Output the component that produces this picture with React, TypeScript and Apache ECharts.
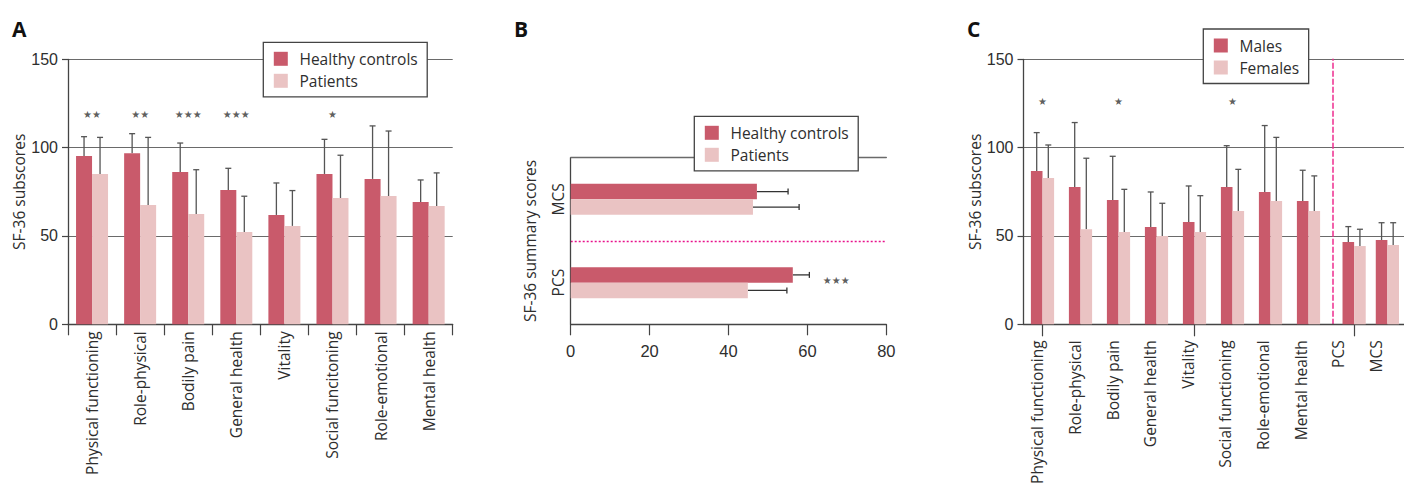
import React, { useEffect, useRef } from 'react';
import * as echarts from 'echarts';

// ---------- Panel A data ----------
const subscalesA = ['Physical functioning', 'Role-physical', 'Bodily pain', 'General health', 'Vitality', 'Social funcitoning', 'Role-emotional', 'Mental health'];
const healthyA = [95.3, 96.8, 86.2, 76.0, 61.9, 85.1, 82.3, 69.2];
const healthyASD = [10.9, 11.1, 16.4, 12.3, 18.1, 19.6, 30.0, 12.5];
const patientsA = [85.1, 67.5, 62.5, 52.3, 55.7, 71.5, 72.6, 67.0];
const patientsASD = [20.7, 38.3, 25.0, 20.2, 20.0, 24.2, 36.8, 18.7];
const starsA = ['**', '**', '***', '***', '', '*', '', ''];

// ---------- Panel B data ----------
const summaryB = ['PCS', 'MCS'];
const healthyB = [56.3, 47.2];
const healthyBSD = [4.2, 7.9];
const patientsB = [44.9, 46.2];
const patientsBSD = [9.9, 11.7];
const starsB = ['***', ''];

// ---------- Panel C data ----------
const subscalesC = ['Physical functioning', 'Role-physical', 'Bodily pain', 'General health', 'Vitality', 'Social functioning', 'Role-emotional', 'Mental health'];
const summaryC = ['PCS', 'MCS'];
const malesC = [86.8, 77.7, 70.4, 55.1, 57.9, 77.7, 74.9, 69.8];
const malesCSD = [21.7, 36.5, 24.7, 19.8, 20.4, 23.4, 37.6, 17.4];
const femalesC = [82.8, 53.8, 52.3, 50.0, 52.3, 64.2, 69.8, 64.2];
const femalesCSD = [18.7, 40.2, 24.1, 18.5, 20.5, 23.5, 36.0, 19.8];
const malesSum = [46.6, 47.7];
const malesSumSD = [8.7, 9.8];
const femalesSum = [44.3, 44.9];
const femalesSumSD = [9.5, 12.6];
const starsC = ['*', '', '*', '', '', '*', '', ''];

const yTicks = [0, 50, 100, 150];
const xTicksB = [0, 20, 40, 60, 80];

// ---------- styles ----------
const DARK = '#c95a6b';
const LIGHT = '#eac3c3';
const ERR = '#555';
const TXT = '#2e2e2e';
const GRIDC = '#6a6a6a';
const AXISC = '#444';
const PINK = '#ee2c8e';
const LABEL_FONT = "'Open Sans', 'Noto Sans', sans-serif";
const NUM_FONT = "'Liberation Sans', Arial, sans-serif";
const STAR_FONT = "'DejaVu Sans', sans-serif";

const vErr = (offset: number) => (_p: any, api: any) => {
  const c = api.value(0);
  const m = api.value(1);
  const h = api.value(2);
  const p0 = api.coord([c, m]);
  const p1 = api.coord([c, h]);
  const x = p0[0] + offset;
  const st = { stroke: ERR, lineWidth: 1.3 };
  return {
    type: 'group',
    children: [
      { type: 'line', shape: { x1: x, y1: p0[1], x2: x, y2: p1[1] }, style: st },
      { type: 'line', shape: { x1: x - 3, y1: p1[1], x2: x + 3, y2: p1[1] }, style: st },
    ],
  };
};

const hErr = (offset: number) => (_p: any, api: any) => {
  const m = api.value(0);
  const c = api.value(1);
  const h = api.value(2);
  const p0 = api.coord([m, c]);
  const p1 = api.coord([h, c]);
  const y = p0[1] + offset;
  const st = { stroke: '#333', lineWidth: 1.3 };
  return {
    type: 'group',
    children: [
      { type: 'line', shape: { x1: p0[0], y1: y, x2: p1[0], y2: y }, style: st },
      { type: 'line', shape: { x1: p1[0], y1: y - 3, x2: p1[0], y2: y + 3 }, style: st },
    ],
  };
};

const starText = (s: string) => s.replace(/\*/g, '\u2605');

const valueY = (grid: number, name?: string, nameGap?: number) => ({
  type: 'value',
  gridIndex: grid,
  min: 0,
  max: 150,
  interval: 50,
  name,
  nameLocation: 'middle',
  nameGap,
  nameTextStyle: { fontFamily: LABEL_FONT, fontSize: 15.5, color: TXT },
  axisLine: { show: true, lineStyle: { color: AXISC, width: 1.3 } },
  axisTick: { show: true, length: 6, lineStyle: { color: AXISC, width: 1.2 } },
  axisLabel: {
    margin: 10,
    fontFamily: NUM_FONT,
    fontSize: 16,
    color: TXT,
    customValues: yTicks,
  },
  splitLine: { show: true, lineStyle: { color: GRIDC, width: 1.2 } },
});

const hiddenY = (grid: number) => ({ type: 'value', gridIndex: grid, min: 0, max: 150, show: false });

export default function App() {
  const ref = useRef<HTMLDivElement>(null);

  useEffect(() => {
    if (!ref.current) return;
    const chart = echarts.init(ref.current, undefined, { renderer: 'svg' });

    const legendCommon = {
      orient: 'vertical',
      icon: 'rect',
      itemWidth: 14,
      itemHeight: 14,
      itemGap: 4,
      selectedMode: false,
      z: 10,
      backgroundColor: '#fff',
      borderColor: '#444',
      borderWidth: 1.3,
      borderRadius: 0,
      padding: [7.5, 9.5, 7, 10.5],
      textStyle: { fontFamily: LABEL_FONT, fontSize: 15.5, color: TXT, lineHeight: 18, padding: [0, 0, 0, 6.7] },
    };

    const titleStyle = { fontFamily: LABEL_FONT, fontSize: 21, fontWeight: 'bold', color: '#111' };

    const starLabel = { show: true, formatter: (p: any) => starText(p.value[2]), fontFamily: STAR_FONT, fontSize: 10, color: '#333' };

    const option: any = {
      animation: false,
      title: [
        { text: 'A', left: 12, top: 18, padding: 0, textStyle: titleStyle },
        { text: 'B', left: 514, top: 18, padding: 0, textStyle: titleStyle },
        { text: 'C', left: 967, top: 18, padding: 0, textStyle: titleStyle },
      ],
      legend: [
        { ...legendCommon, data: ['Healthy controls', 'Patients'], left: 263.3, top: 42.3 },
        { ...legendCommon, data: ['Healthy controls', 'Patients'], left: 694.3, top: 116.3 },
        { ...legendCommon, data: ['Males', 'Females'], left: 1203.3, top: 29 },
      ],
      grid: [
        { left: 68, top: 59.3, width: 384.7, height: 265 },
        { left: 570.7, top: 157.7, width: 315.6, height: 166.6 },
        { left: 1023.5, top: 59.3, width: 400, height: 265 },
        { left: 1023.5, top: 59.3, width: 304, height: 265 },
        { left: 1337.5, top: 59.3, width: 76, height: 265 },
        { left: 1018.5, top: 59.3, width: 376, height: 265 },
      ],
      xAxis: [
        {
          type: 'category',
          gridIndex: 0,
          data: subscalesA,
          axisLine: { show: true, lineStyle: { color: AXISC, width: 1.3 } },
          axisTick: { show: true, length: 11, lineStyle: { color: AXISC, width: 1.2 } },
          axisLabel: { rotate: 90, interval: 0, margin: 7, fontFamily: LABEL_FONT, fontSize: 15.5, color: TXT },
        },
        {
          type: 'value',
          gridIndex: 1,
          z: 3,
          min: 0,
          max: 80,
          interval: 20,
          axisLine: { show: true, lineStyle: { color: AXISC, width: 1.4 } },
          axisTick: { show: true, length: 11, lineStyle: { color: AXISC, width: 1.2 } },
          axisLabel: { margin: 18, fontFamily: NUM_FONT, fontSize: 16.5, color: TXT, customValues: xTicksB },
          splitLine: { show: false },
        },
        {
          type: 'value',
          gridIndex: 1,
          z: 3,
          position: 'top',
          min: 0,
          max: 80,
          axisLine: { show: true, lineStyle: { color: GRIDC, width: 1.4 } },
          axisTick: { show: false },
          axisLabel: { show: false },
          splitLine: { show: false },
        },
        {
          type: 'value',
          gridIndex: 2,
          min: 0,
          max: 1,
          axisLine: { show: true, lineStyle: { color: AXISC, width: 1.3 } },
          axisTick: { show: false },
          axisLabel: { show: false },
          splitLine: { show: false },
        },
        {
          type: 'category',
          gridIndex: 3,
          data: subscalesC,
          axisLine: { show: false },
          axisTick: { show: true, alignWithLabel: true, length: 12, lineStyle: { color: AXISC, width: 1.2 } },
          axisLabel: { show: false },
        },
        {
          type: 'category',
          gridIndex: 4,
          data: summaryC,
          axisLine: { show: false },
          axisTick: { show: true, alignWithLabel: true, length: 12, lineStyle: { color: AXISC, width: 1.2 } },
          axisLabel: { show: false },
        },
        {
          type: 'category',
          gridIndex: 5,
          data: [...subscalesC, ...summaryC],
          axisLine: { show: false },
          axisTick: { show: false },
          axisLabel: { rotate: 90, interval: 0, margin: 16, fontFamily: LABEL_FONT, fontSize: 15.5, color: TXT },
        },
      ],
      yAxis: [
        valueY(0, 'SF-36 subscores', 39),
        {
          type: 'category',
          gridIndex: 1,
          z: 0,
          data: summaryB,
          name: 'SF-36 summary scores',
          nameLocation: 'middle',
          nameGap: 33,
          nameTextStyle: { fontFamily: LABEL_FONT, fontSize: 15.5, color: TXT },
          axisLine: { show: true, lineStyle: { color: AXISC, width: 1.3 } },
          axisTick: { show: false },
          axisLabel: { rotate: 90, margin: 5, fontFamily: LABEL_FONT, fontSize: 15.5, color: TXT },
          splitLine: { show: true, showMinLine: false, showMaxLine: false, lineStyle: { color: '#e8128c', width: 1.3, type: [2, 2] } },
        },
        valueY(2, 'SF-36 subscores', 41),
        hiddenY(3),
        {
          type: 'value',
          gridIndex: 3,
          position: 'right',
          offset: 4.8,
          min: 0,
          max: 150,
          axisLine: { show: true, lineStyle: { color: PINK, width: 1.5, type: [5, 3] } },
          axisTick: { show: false },
          axisLabel: { show: false },
          splitLine: { show: false },
        },
        hiddenY(4),
        hiddenY(5),
      ],
      series: [
        // Panel A
        { type: 'bar', name: 'Healthy controls', xAxisIndex: 0, yAxisIndex: 0, data: healthyA, barWidth: 16, barGap: '0%', itemStyle: { color: DARK }, silent: true },
        { type: 'bar', name: 'Patients', xAxisIndex: 0, yAxisIndex: 0, data: patientsA, barWidth: 16, barGap: '0%', itemStyle: { color: LIGHT }, silent: true },
        {
          type: 'custom', xAxisIndex: 0, yAxisIndex: 0, silent: true, encode: { x: 0, y: [1, 2] },
          renderItem: vErr(-8), data: healthyA.map((v, i) => [subscalesA[i], v, v + healthyASD[i]]),
        },
        {
          type: 'custom', xAxisIndex: 0, yAxisIndex: 0, silent: true, encode: { x: 0, y: [1, 2] },
          renderItem: vErr(8), data: patientsA.map((v, i) => [subscalesA[i], v, v + patientsASD[i]]),
        },
        {
          type: 'scatter', xAxisIndex: 0, yAxisIndex: 0, silent: true, symbolSize: 1,
          itemStyle: { color: 'rgba(0,0,0,0)' },
          encode: { x: 0, y: 1 },
          data: starsA.map((s, i) => [subscalesA[i], 118.5, s]).filter((d) => d[2] !== ''),
          label: { ...starLabel, position: 'inside' },
        },
        // Panel B
        { type: 'bar', name: 'Healthy controls', xAxisIndex: 1, yAxisIndex: 1, data: healthyB, barWidth: 15.5, barGap: '0%', itemStyle: { color: DARK }, silent: true },
        { type: 'bar', name: 'Patients', xAxisIndex: 1, yAxisIndex: 1, data: patientsB, barWidth: 15.5, barGap: '0%', itemStyle: { color: LIGHT }, silent: true },
        {
          type: 'custom', xAxisIndex: 1, yAxisIndex: 1, silent: true, encode: { x: [0, 2], y: 1 },
          renderItem: hErr(-7.75), data: healthyB.map((v, i) => [v, summaryB[i], v + healthyBSD[i]]),
        },
        {
          type: 'custom', xAxisIndex: 1, yAxisIndex: 1, silent: true, encode: { x: [0, 2], y: 1 },
          renderItem: hErr(7.75), data: patientsB.map((v, i) => [v, summaryB[i], v + patientsBSD[i]]),
        },
        {
          type: 'scatter', xAxisIndex: 1, yAxisIndex: 1, silent: true, symbolSize: 1,
          itemStyle: { color: 'rgba(0,0,0,0)' },
          encode: { x: 0, y: 1 },
          data: starsB.map((s, i) => [healthyB[i] + healthyBSD[i], summaryB[i], s]).filter((d) => d[2] !== ''),
          label: { ...starLabel, position: 'right', distance: 13, offset: [0, -2] },
        },
        // Panel C
        { type: 'bar', name: 'Males', xAxisIndex: 4, yAxisIndex: 3, data: malesC, barWidth: 11.6, barGap: '0%', itemStyle: { color: DARK }, silent: true },
        { type: 'bar', name: 'Females', xAxisIndex: 4, yAxisIndex: 3, data: femalesC, barWidth: 11.6, barGap: '0%', itemStyle: { color: LIGHT }, silent: true },
        { type: 'bar', name: 'Males', xAxisIndex: 5, yAxisIndex: 5, data: malesSum, barWidth: 11.6, barGap: '0%', itemStyle: { color: DARK }, silent: true },
        { type: 'bar', name: 'Females', xAxisIndex: 5, yAxisIndex: 5, data: femalesSum, barWidth: 11.6, barGap: '0%', itemStyle: { color: LIGHT }, silent: true },
        {
          type: 'custom', xAxisIndex: 4, yAxisIndex: 3, silent: true, encode: { x: 0, y: [1, 2] },
          renderItem: vErr(-5.8), data: malesC.map((v, i) => [subscalesC[i], v, v + malesCSD[i]]),
        },
        {
          type: 'custom', xAxisIndex: 4, yAxisIndex: 3, silent: true, encode: { x: 0, y: [1, 2] },
          renderItem: vErr(5.8), data: femalesC.map((v, i) => [subscalesC[i], v, v + femalesCSD[i]]),
        },
        {
          type: 'custom', xAxisIndex: 5, yAxisIndex: 5, silent: true, encode: { x: 0, y: [1, 2] },
          renderItem: vErr(-5.8), data: malesSum.map((v, i) => [summaryC[i], v, v + malesSumSD[i]]),
        },
        {
          type: 'custom', xAxisIndex: 5, yAxisIndex: 5, silent: true, encode: { x: 0, y: [1, 2] },
          renderItem: vErr(5.8), data: femalesSum.map((v, i) => [summaryC[i], v, v + femalesSumSD[i]]),
        },
        {
          type: 'scatter', xAxisIndex: 4, yAxisIndex: 3, silent: true, symbolSize: 1,
          itemStyle: { color: 'rgba(0,0,0,0)' },
          encode: { x: 0, y: 1 },
          data: starsC.map((s, i) => [subscalesC[i], 126, s]).filter((d) => d[2] !== ''),
          label: { ...starLabel, position: 'inside' },
        },
      ],
    };

    chart.setOption(option);
    return () => chart.dispose();
  }, []);

  return (
    <div
      ref={ref}
      style={{ position: 'absolute', left: 0, top: 0, width: 1404, height: 487, overflow: 'hidden', background: '#fff' }}
    />
  );
}
